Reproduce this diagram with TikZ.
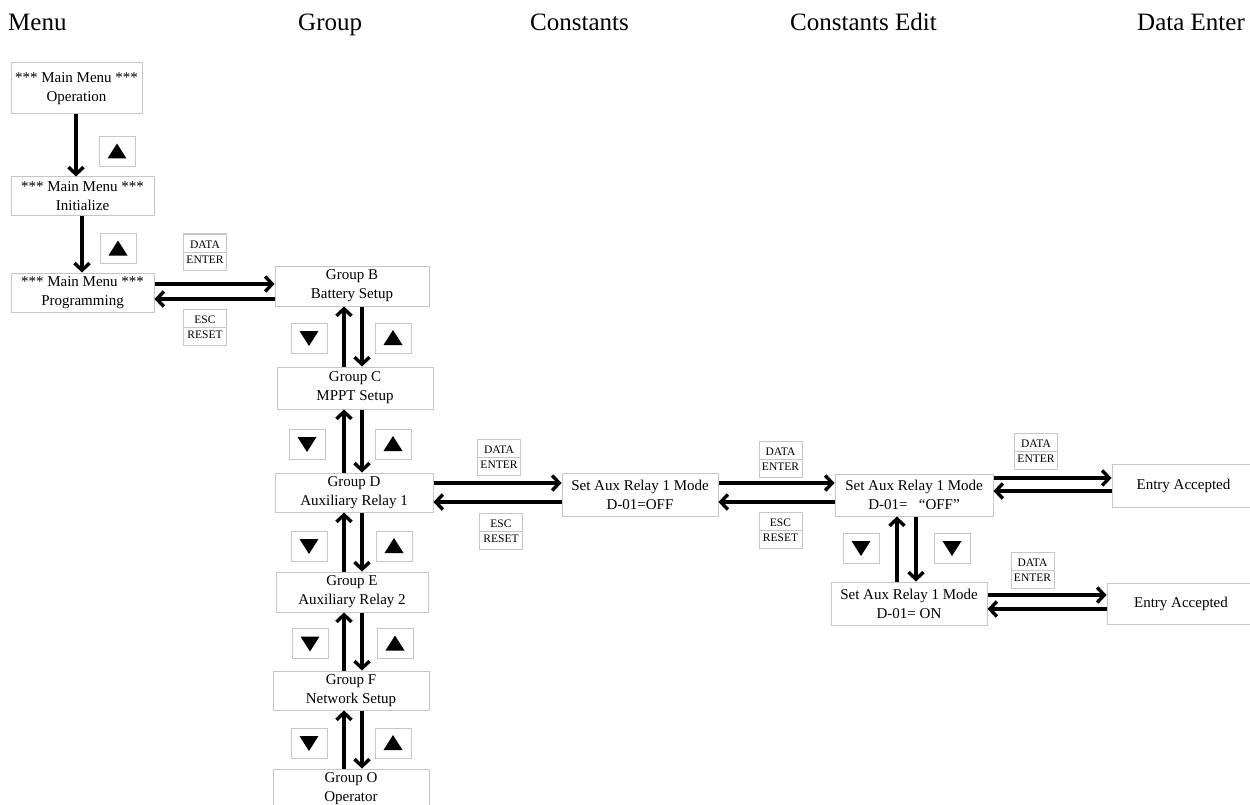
\documentclass[tikz,border=0pt]{standalone}
\usepackage{fontspec}
\setmainfont{Liberation Serif}
\usetikzlibrary{arrows.meta}
\newcommand\uptri[3]{\node[tribox] (#1) at (#2,#3) {};
  \fill (#1.center) ++(-9.5pt,-7pt) -- ++(19pt,0pt) -- ++(-9.5pt,15pt) -- cycle;}
\newcommand\dntri[3]{\node[tribox] (#1) at (#2,#3) {};
  \fill (#1.center) ++(-9.5pt,7pt) -- ++(19pt,0pt) -- ++(-9.5pt,-15pt) -- cycle;}
\newcommand\keyl[5]{\node[keylbl] (#1) at (#2,#3) {#4\\#5};
  \draw[gray!45,line width=1pt] (#1.west) -- (#1.east);}
\begin{document}
\begin{tikzpicture}[x=1pt,y=-1pt,
  box/.style={draw=gray!45,line width=1pt,inner sep=0pt,align=center,font=\fontsize{15}{19}\selectfont},
  keylbl/.style={draw=gray!45,line width=1pt,inner sep=0pt,align=center,minimum width=43pt,minimum height=36pt,font=\fontsize{11.5}{15}\selectfont},
  tribox/.style={draw=gray!45,line width=1pt,inner sep=0pt,minimum width=36pt,minimum height=30pt},
  title/.style={anchor=base west,inner sep=0pt,font=\fontsize{25}{30}\selectfont},
  arr/.style={line width=3.4pt,-{Straight Barb[length=7pt,width=15pt]}}]
\useasboundingbox[fill=white] (0,0) rectangle (1250,805);

% titles
\node[title] (t1) at (8,31) {Menu};
\node[title] (t2) at (298,31) {Group};
\node[title] (t3) at (530,31) {Constants};
\node[title] (t4) at (790,31) {Constants Edit};
\node[title,anchor=base east] (t5) at (1245,31) {Data Enter};

% menu column
\node[box,minimum width=131pt,minimum height=51pt] (op) at (76.5,88.5) {*** Main Menu ***\\Operation};
\node[box,minimum width=143pt,minimum height=39pt] (init) at (82.5,196.5) {*** Main Menu ***\\Initialize};
\node[box,minimum width=143pt,minimum height=39pt] (prog) at (82.5,292.5) {*** Main Menu ***\\Programming};
\uptri{ta1}{117}{151.5}
\uptri{ta2}{118}{248.5}
\keyl{k1}{205}{252}{DATA}{ENTER}
\keyl{k2}{205}{327.5}{ESC}{RESET}

% group column
\node[box,minimum width=154pt,minimum height=40pt] (B) at (352,286) {Group B\\Battery Setup};
\node[box,minimum width=156pt,minimum height=42pt] (C) at (355,388) {Group C\\MPPT Setup};
\node[box,minimum width=158pt,minimum height=39pt] (D) at (354,492.5) {Group D\\Auxiliary Relay 1};
\node[box,minimum width=152pt,minimum height=40pt] (E) at (352,592) {Group E\\Auxiliary Relay 2};
\node[box,minimum width=156pt,minimum height=39pt] (F) at (351,690.5) {Group F\\Network Setup};
\node[box,minimum width=156pt,minimum height=40pt] (O) at (351,789) {Group O\\Operator};
\dntri{tb1}{309}{338} \uptri{tb2}{393}{338}
\dntri{tc1}{307}{444} \uptri{tc2}{393}{444}
\dntri{td1}{309}{546} \uptri{td2}{394}{546}
\dntri{te1}{310}{643.5} \uptri{te2}{395}{643.5}
\dntri{tf1}{309}{743} \uptri{tf2}{393}{743}

% constants
\node[box,minimum width=156pt,minimum height=43pt] (S1) at (640,494.5) {Set Aux Relay 1 Mode\\D-01=OFF};
\keyl{k3}{499}{457}{DATA}{ENTER}
\keyl{k4}{501}{531}{ESC}{RESET}

% constants edit
\node[box,minimum width=158pt,minimum height=42pt] (S2) at (914,495) {Set Aux Relay 1 Mode\\D-01=\ \ \ “OFF”};
\node[box,minimum width=156pt,minimum height=43pt] (S3) at (909,603.5) {Set Aux Relay 1 Mode\\D-01= ON};
\keyl{k5}{780.5}{459.5}{DATA}{ENTER}
\keyl{k6}{780.5}{530}{ESC}{RESET}
\dntri{tg1}{861}{548} \dntri{tg2}{952}{548}

% data enter
\node[box,minimum width=143pt,minimum height=43pt] (EA1) at (1183.5,485.5) {Entry Accepted};
\node[box,minimum width=148pt,minimum height=41pt] (EA2) at (1181,603.5) {Entry Accepted};
\keyl{k7}{1036}{451.5}{DATA}{ENTER}
\keyl{k8}{1032.5}{570}{DATA}{ENTER}

% guide coordinates
\coordinate (xa) at (76,0);
\coordinate (xb) at (82,0);
\coordinate (xu) at (344,0);
\coordinate (xd) at (362,0);
\coordinate (xu2) at (897,0);
\coordinate (xd2) at (916,0);
\coordinate (ya) at (0,284);
\coordinate (yb) at (0,299);
\coordinate (yc) at (0,483);
\coordinate (yd) at (0,502);
\coordinate (ye) at (0,478);
\coordinate (yf) at (0,491);
\coordinate (yg) at (0,595);
\coordinate (yh) at (0,609);

% connectors
\draw[arr] (op.south -| xa) -- (init.north -| xa);
\draw[arr] (init.south -| xb) -- (prog.north -| xb);
\draw[arr] (prog.east |- ya) -- (B.west |- ya);
\draw[arr] (B.west |- yb) -- (prog.east |- yb);

\draw[arr] (C.north -| xu) -- (B.south -| xu);
\draw[arr] (B.south -| xd) -- (C.north -| xd);
\draw[arr] (D.north -| xu) -- (C.south -| xu);
\draw[arr] (C.south -| xd) -- (D.north -| xd);
\draw[arr] (E.north -| xu) -- (D.south -| xu);
\draw[arr] (D.south -| xd) -- (E.north -| xd);
\draw[arr] (F.north -| xu) -- (E.south -| xu);
\draw[arr] (E.south -| xd) -- (F.north -| xd);
\draw[arr] (O.north -| xu) -- (F.south -| xu);
\draw[arr] (F.south -| xd) -- (O.north -| xd);

\draw[arr] (D.east |- yc) -- (S1.west |- yc);
\draw[arr] (S1.west |- yd) -- (D.east |- yd);
\draw[arr] (S1.east |- yc) -- (S2.west |- yc);
\draw[arr] (S2.west |- yd) -- (S1.east |- yd);

\draw[arr] (S2.east |- ye) -- (EA1.west |- ye);
\draw[arr] (EA1.west |- yf) -- (S2.east |- yf);
\draw[arr] (S3.north -| xu2) -- (S2.south -| xu2);
\draw[arr] (S2.south -| xd2) -- (S3.north -| xd2);
\draw[arr] (S3.east |- yg) -- (EA2.west |- yg);
\draw[arr] (EA2.west |- yh) -- (S3.east |- yh);
\end{tikzpicture}
\end{document}
